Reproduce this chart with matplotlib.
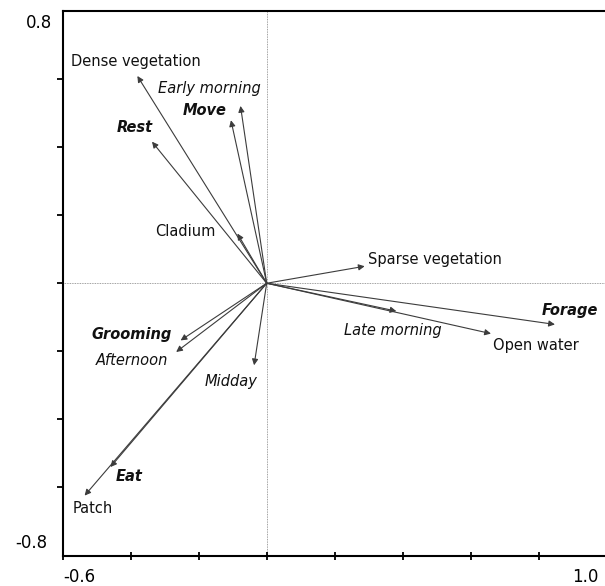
import numpy as np
import matplotlib.pyplot as plt

# ordination biplot: end points of each variable vector (axis 1, axis 2)
names = ["Dense vegetation", "Early morning", "Move", "Rest", "Cladium",
         "Sparse vegetation", "Forage", "Late morning", "Open water",
         "Grooming", "Afternoon", "Midday", "Eat", "Patch"]
vec_x = [-0.380, -0.077, -0.105, -0.337, -0.086,
         0.288, 0.847, 0.381, 0.659,
         -0.253, -0.266, -0.037, -0.459, -0.535]
vec_y = [0.609, 0.521, 0.479, 0.416, 0.146,
         0.050, -0.121, -0.082, -0.148,
         -0.168, -0.202, -0.241, -0.540, -0.624]
# behaviour / time of day / habitat
kind = ["habitat", "time", "behaviour", "behaviour", "habitat",
        "habitat", "behaviour", "time", "habitat",
        "behaviour", "time", "time", "behaviour", "habitat"]

# where each label sits (centre x, baseline y)
lab_x = [-0.385, -0.168, -0.181, -0.388, -0.240,
         0.494, 0.890, 0.371, 0.791,
         -0.396, -0.396, -0.104, -0.403, -0.510]
lab_y = [0.639, 0.558, 0.494, 0.445, 0.139,
         0.058, -0.094, -0.153, -0.197,
         -0.163, -0.241, -0.303, -0.582, -0.676]

font_for = {
    "behaviour": dict(fontweight="bold", fontstyle="italic"),
    "time": dict(fontstyle="italic"),
    "habitat": dict(),
}

W, H = 605, 586
fig = plt.figure(figsize=(W / 100, H / 100), dpi=100)
ax = fig.add_axes([62.5 / W, 1 - 555.5 / H, (607 - 62.5) / W, (555.5 - 11) / H])
ax.set_xlim(-0.6, 1.0)
ax.set_ylim(-0.8, 0.8)

ax.axhline(0, color="#808080", lw=0.6, ls=(0, (1, 1)), zorder=1)
ax.axvline(0, color="#808080", lw=0.6, ls=(0, (1, 1)), zorder=1)

for x, y in zip(vec_x, vec_y):
    ax.annotate("", xy=(x, y), xytext=(0, 0),
                arrowprops=dict(arrowstyle="-|>", color="#3c3c3c", lw=0.8,
                                mutation_scale=9, shrinkA=0, shrinkB=0))

for name, k, x, y in zip(names, kind, lab_x, lab_y):
    ax.text(x, y, name, ha="center", va="baseline", fontsize=10.5,
            color="#111111", **font_for[k])

for side in ["left", "bottom", "top"]:
    ax.spines[side].set_linewidth(1.5)
ax.spines["right"].set_visible(False)

ax.set_xticks(np.arange(-0.6, 0.81, 0.2))
ax.set_yticks(np.arange(-0.6, 0.61, 0.2))
ax.set_xticklabels([])
ax.set_yticklabels([])
ax.tick_params(axis="y", direction="out", length=4, width=1.3)
ax.tick_params(axis="x", direction="inout", length=6, width=1.3)

# end values of each axis
num = dict(fontsize=12, va="baseline")
fig.text(52 / W, 1 - 28.3 / H, "0.8", ha="right", **num)
fig.text(47 / W, 1 - 548.5 / H, "-0.8", ha="right", **num)
fig.text(63 / W, 1 - 581.5 / H, "-0.6", ha="left", **num)
fig.text(598 / W, 1 - 581.5 / H, "1.0", ha="right", **num)

fig.savefig("out.png", dpi=100)
